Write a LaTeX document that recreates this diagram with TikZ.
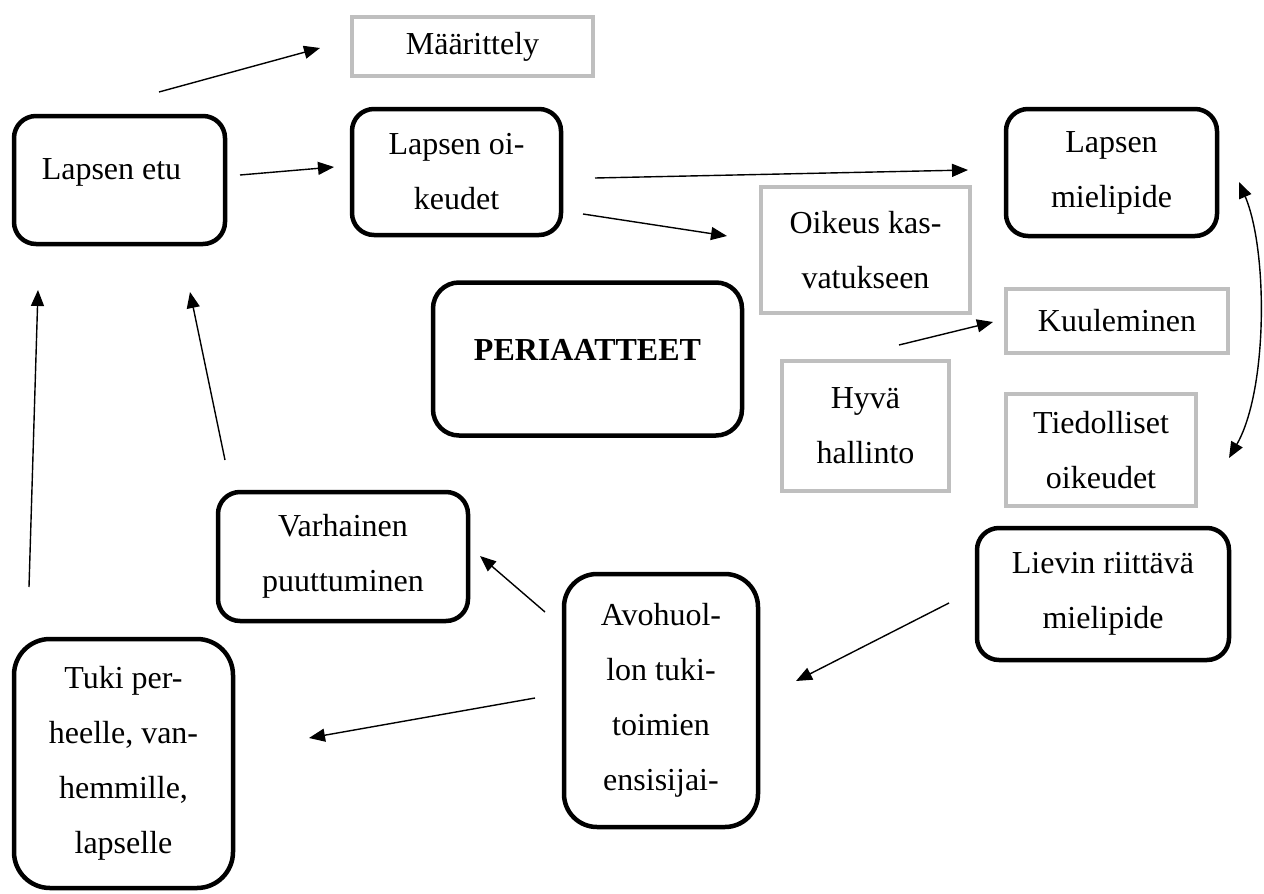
\documentclass[tikz,border=0pt]{standalone}
\usepackage{fontspec}
\setmainfont{Liberation Serif}
\usetikzlibrary{arrows.meta,calc}
\definecolor{boxgray}{HTML}{BFBFBF}
\tikzset{
  txt/.style={font=\fontsize{32}{55}\selectfont, align=center, inner sep=0pt},
  bbox/.style={txt, draw=black, line width=4.5pt, rounded corners=#1},
  bbox/.default=22pt,
  gbox/.style={txt, draw=boxgray, line width=4pt},
  arr/.style={line width=1.4pt, -{Triangle[length=16pt,width=13pt]}},
  darr/.style={line width=1.4pt, {Triangle[length=16pt,width=13pt]}-{Triangle[length=16pt,width=13pt]}}
}
\begin{document}
\begin{tikzpicture}[x=1pt,y=-1pt]
\useasboundingbox (0,0) rectangle (1264,894);
% boxes
\node[bbox, minimum width=211pt, minimum height=128pt] (le) at (119.5,180) {\hspace*{-16pt}\raisebox{8pt}[\height][\depth]{Lapsen etu}};
\node[gbox, minimum width=241pt, minimum height=59pt] (ma) at (472.5,46.5) {Määrittely};
\node[bbox, minimum width=209pt, minimum height=126pt] (lo) at (456.5,172) {Lapsen oi-\\keudet};
\node[bbox, minimum width=211pt, minimum height=127pt] (lm) at (1111.5,172.5) {Lapsen\\mielipide};
\node[gbox, minimum width=209pt, minimum height=126pt] (ok) at (865.5,250) {Oikeus kas-\\vatukseen};
\node[bbox=26pt, minimum width=309pt, minimum height=153pt] (pe) at (587.5,359) {\raisebox{9pt}[\height][\depth]{\bfseries PERIAATTEET}};
\node[gbox, minimum width=222pt, minimum height=64pt] (ku) at (1117,321) {Kuuleminen};
\node[gbox, minimum width=167pt, minimum height=130pt] (hh) at (865.5,426) {Hyvä\\hallinto};
\node[gbox, minimum width=190pt, minimum height=112pt] (ti) at (1101,450) {Tiedolliset\\oikeudet};
\node[bbox, minimum width=252pt, minimum height=132pt] (li) at (1103,594) {Lievin riittävä\\mielipide};
\node[bbox=33pt, minimum width=194pt, minimum height=253pt] (av) at (661,700.5) {Avohuol-\\lon tuki-\\toimien\\ensisijai-};
\node[bbox, minimum width=250pt, minimum height=129pt] (va) at (343,556.5) {Varhainen\\puuttuminen};
\node[bbox=36pt, minimum width=219pt, minimum height=249pt] (tu) at (123.5,763.5) {Tuki per-\\heelle, van-\\hemmille,\\lapselle};
% connectors
\draw[arr] ($(le)+(39.5,-88)$) -- ($(ma)+(-152.5,1.5)$);
\draw[arr] ($(le)+(120.5,-5)$) -- ($(lo)+(-122.5,-5)$);
\draw[arr] ($(lo)+(138.5,6)$) -- ($(lm)+(-143.5,-2.5)$);
\draw[arr] ($(lo)+(126.5,42)$) -- ($(ok)+(-138.5,-14)$);
\draw[arr] ($(hh)+(33.5,-81)$) -- ($(ku)+(-124,1)$);
\draw[darr] ($(lm)+(127.5,9.5)$) .. controls ($(lm)+(156.5,77.5)$) and ($(ti)+(167,-60)$) .. ($(ti)+(128,8)$);
\draw[arr] ($(li)+(-154,9)$) -- ($(av)+(135,-19.5)$);
\draw[arr] ($(av)+(-116,-88.5)$) -- ($(va)+(137,-0.5)$);
\draw[arr] ($(av)+(-126,-2.5)$) -- ($(tu)+(185.5,-25.5)$);
\draw[arr] ($(tu)+(-94.5,-176.5)$) -- ($(le)+(-81.5,110)$);
\draw[arr] ($(va)+(-118,-96.5)$) -- ($(le)+(70.5,112)$);
\end{tikzpicture}
\end{document}
